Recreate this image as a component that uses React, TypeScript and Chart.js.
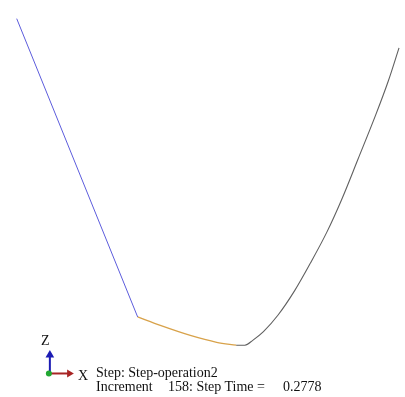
import React, { useEffect, useRef } from "react";
import { Chart, registerables } from "chart.js";

Chart.register(...registerables);

const W = 405;
const H = 397;

// Deformed wire profile, model coordinates (x to the right, z upward)
const blueX = [12, 136];
const blueZ = [383, 77];
const orangeX = [136, 160, 190, 217, 237];
const orangeZ = [77, 68, 58, 51, 48];
const blackX = [237, 246, 254, 265, 280, 297, 313, 330, 345, 362, 380, 393, 404];
const blackZ = [48, 48, 53, 62, 79, 104, 132, 164, 197, 239, 284, 319, 353];

// Axis triad
const triadOrigin = [46, 19];
const triadZTip = [46, 38];
const triadXTip = [66, 19];

// Texts
const stepText = "Step: Step-operation2";
const incrementText = "Increment";
const incrementValue = "158: Step Time =";
const stepTimeValue = "0.2778";

const pts = (xs: number[], zs: number[]) => xs.map((x, i) => ({ x, y: zs[i] }));

export default function App() {
  const ref = useRef<HTMLCanvasElement>(null);

  useEffect(() => {
    if (!ref.current) return;
    const chart = new Chart(ref.current, {
      type: "scatter",
      data: {
        datasets: [
          {
            data: [{ x: triadOrigin[0] - 1, y: triadOrigin[1] }],
            pointRadius: 3,
            pointBackgroundColor: "#22a832",
            pointBorderWidth: 0,
            showLine: false,
            order: -2,
          },
          {
            data: [
              { x: triadOrigin[0], y: triadOrigin[1] },
              { x: triadZTip[0], y: triadZTip[1] },
            ],
            showLine: true,
            borderColor: "#1c1cb4",
            borderWidth: 2,
            pointRadius: [0, 5],
            pointStyle: "triangle",
            pointBackgroundColor: "#1c1cb4",
            pointBorderColor: "#1c1cb4",
            pointBorderWidth: 0,
            order: -1,
          },
          {
            data: [
              { x: triadOrigin[0], y: triadOrigin[1] },
              { x: triadXTip[0], y: triadXTip[1] },
            ],
            showLine: true,
            borderColor: "#a82424",
            borderWidth: 2,
            pointRadius: [0, 4.5],
            pointStyle: "triangle",
            pointRotation: 90,
            pointBackgroundColor: "#a82424",
            pointBorderColor: "#a82424",
            pointBorderWidth: 0,
            order: -1,
          },
          {
            data: pts(blueX, blueZ),
            showLine: true,
            borderColor: "#5c5cdc",
            borderWidth: 1,
            pointRadius: 0,
          },
          {
            data: pts(orangeX, orangeZ),
            showLine: true,
            borderColor: "#d8a24a",
            borderWidth: 1.3,
            pointRadius: 0,
            cubicInterpolationMode: "monotone",
          },
          {
            data: pts(blackX, blackZ),
            showLine: true,
            borderColor: "#606060",
            borderWidth: 1.1,
            pointRadius: 0,
            cubicInterpolationMode: "monotone",
          },
        ],
      },
      options: {
        animation: false,
        responsive: false,
        events: [],
        layout: { padding: 0 },
        clip: false,
        plugins: { legend: { display: false }, tooltip: { enabled: false }, title: { display: false } },
        scales: {
          x: { type: "linear", min: 0, max: W, display: false },
          y: { type: "linear", min: 0, max: H, display: false },
        },
      } as any,
    });
    return () => chart.destroy();
  }, []);

  const font: React.CSSProperties = {
    position: "absolute",
    fontFamily: "'Liberation Serif', 'Times New Roman', serif",
    fontSize: "14px",
    lineHeight: "14px",
    color: "#111",
    whiteSpace: "pre",
  };

  return (
    <div style={{ position: "absolute", left: 0, top: 0, width: W, height: H, background: "#fff", overflow: "hidden" }}>
      <canvas ref={ref} width={W} height={H} style={{ position: "absolute", left: 0, top: 0 }} />
      <span style={{ ...font, left: 41, top: 334 }}>Z</span>
      <span style={{ ...font, left: 78, top: 368.5 }}>X</span>
      <span style={{ ...font, left: 96, top: 366.3 }}>{stepText}</span>
      <span style={{ ...font, left: 96, top: 380.3 }}>{incrementText}</span>
      <span style={{ ...font, left: 168, top: 380.3 }}>{incrementValue}</span>
      <span style={{ ...font, left: 283, top: 380.3 }}>{stepTimeValue}</span>
    </div>
  );
}
